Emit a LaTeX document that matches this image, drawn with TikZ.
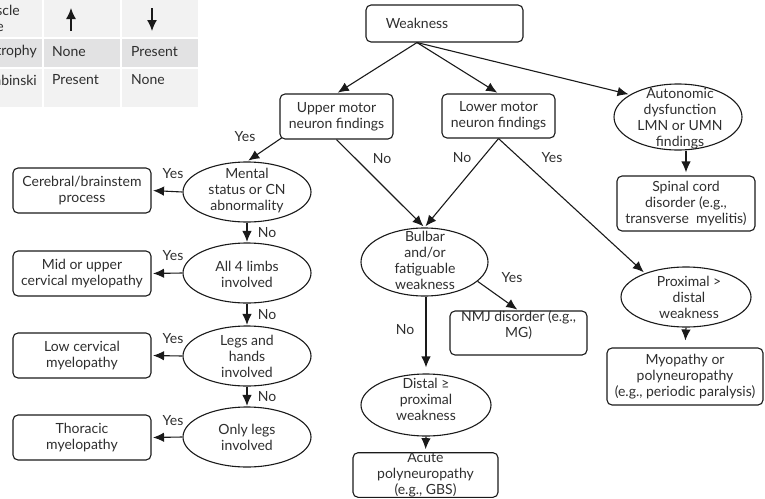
\documentclass[tikz,border=0pt]{standalone}
\usepackage{fontspec}
\setmainfont{Lato}
\usetikzlibrary{arrows.meta,shapes.geometric}
\definecolor{ink}{HTML}{1A1A1A}
\definecolor{txtgray}{HTML}{2E2E2E}
\definecolor{tabbg}{HTML}{F2F2F2}
\definecolor{tabrow}{HTML}{E2E2E3}
\tikzset{
  txt/.style={align=center, font=\fontsize{14}{16}\selectfont, text=txtgray, inner sep=0pt},
  box/.style={draw=ink, line width=1.1pt, rounded corners=5pt, align=center,
    font=\fontsize{14}{16}\selectfont, text=txtgray, inner sep=1pt},
  oval/.style={draw=ink, line width=1.1pt, ellipse, inner sep=0pt},
  arr/.style={draw=ink, line width=1.1pt, -{Latex[length=11pt,width=9.5pt]}, shorten >=1.5pt},
  tabarr/.style={draw=ink, line width=1.3pt, -{Latex[length=11pt,width=10pt]}},
}
\begin{document}
\begin{tikzpicture}[x=1pt,y=-1pt]
\useasboundingbox (0,0) rectangle (765,498);
\clip (0,0) rectangle (765,498);

% sign table in the corner
\fill[tabbg] (-5,0) rectangle (198,107);
\fill[tabrow] (-5,38) rectangle (198,68);
\draw[white, line width=2pt] (43,0) -- (43,107) (121,0) -- (121,107)
  (-5,38) -- (198,38) (-5,68) -- (198,68);
\node[txt, anchor=east] (h1a) at (20,10) {Muscle};
\node[txt, anchor=east] (h1b) at (4,27) {tone};
\coordinate (upt) at (71,31);
\coordinate (uph) at (71,8);
\coordinate (dnt) at (152,8);
\coordinate (dnh) at (152,31);
\draw[tabarr] (upt) -- (uph);
\draw[tabarr] (dnt) -- (dnh);
\node[txt, anchor=east] (r1) at (37,52) {Atrophy};
\node[txt, anchor=west] (r1b) at (52,52) {None};
\node[txt, anchor=west] (r1c) at (131,52) {Present};
\node[txt, anchor=east] (r2) at (37,80) {Babinski};
\node[txt, anchor=west] (r2b) at (52,80) {Present};
\node[txt, anchor=west] (r2c) at (131,80) {None};

% top level
\node[box, minimum width=157pt, minimum height=37pt] (weak) at (444.5,23.5) {};
\node[txt] (weakt) at (417,23.5) {Weakness};
\coordinate (wsrc) at (weak.south -| weakt);

\node[box, minimum width=113pt, minimum height=45pt] (umn) at (336.5,116.5) {Upper motor\\neuron findings};
\node[box, minimum width=113pt, minimum height=44pt] (lmn) at (498.5,116) {Lower motor\\neuron findings};
\node[oval, minimum width=128pt, minimum height=66pt] (auto) at (678,117) {};
\node[txt] (autot) at (680,118.5) {Autonomic\\dysfunction\\LMN or UMN\\findings};
\node[box, minimum width=138pt, minimum height=55pt] (spinal) at (686,203.5) {Spinal cord\\disorder (e.g.,\\transverse~ myelitis)};

% upper motor neuron branch
\node[oval, minimum width=128pt, minimum height=60pt] (mental) at (247,192) {};
\node[txt] (mentalt) at (247,191) {Mental\\status or CN\\abnormality};
\node[oval, minimum width=128pt, minimum height=60pt] (all4) at (247,273) {};
\node[txt] (all4t) at (247,274) {All 4 limbs\\involved};
\node[oval, minimum width=128pt, minimum height=60pt] (legs) at (247,356) {};
\node[txt] (legst) at (247,356) {Legs and\\hands\\involved};
\node[oval, minimum width=128pt, minimum height=60pt] (only) at (247,437) {};
\node[txt] (onlyt) at (247,437.5) {Only legs\\involved};

\node[box, minimum width=138pt, minimum height=45pt] (cereb) at (82,190.5) {Cerebral/brainstem\\process};
\node[box, minimum width=138pt, minimum height=45pt] (midup) at (82,273.5) {Mid or upper\\cervical myelopathy};
\node[box, minimum width=138pt, minimum height=45pt] (lowc) at (82,355.5) {Low cervical\\myelopathy};
\node[box, minimum width=138pt, minimum height=45pt] (thor) at (82,437.5) {Thoracic\\myelopathy};

% middle branch
\node[oval, minimum width=127pt, minimum height=68pt] (bulbar) at (424.5,262) {};
\node[txt] (bulbart) at (425,260.5) {Bulbar\\and/or\\fatiguable\\weakness};
\node[box, minimum width=137pt, minimum height=44pt] (nmj) at (518.5,333) {};
\node[txt] (nmjt) at (518.5,325) {NMJ disorder (e.g.,\\MG)};
\node[oval, minimum width=130pt, minimum height=62pt] (distal) at (426,405) {};
\node[txt] (distalt) at (426,399) {Distal ≥\\proximal\\weakness};
\node[box, inner sep=0pt, minimum width=145pt, minimum height=44pt] (acute) at (425.5,475) {Acute\\polyneuropathy\\(e.g., GBS)};

% lower motor neuron branch
\node[oval, minimum width=130pt, minimum height=60pt] (prox) at (686,297) {};
\node[txt] (proxt) at (689,297.5) {Proximal >\\distal\\weakness};
\node[box, inner sep=0pt, minimum width=156pt, minimum height=57pt] (myo) at (685,376.5) {Myopathy or\\polyneuropathy\\(e.g., periodic paralysis)};

% connectors
\draw[arr] (wsrc) -- (umn.north);
\draw[arr] (wsrc) -- (lmn.north);
\draw[arr] (wsrc) -- (auto.155);
\draw[arr, shorten >=3pt] (auto.south -| spinal.north) -- (spinal.north);

\draw[arr] ([shift={(2pt,1.5pt)}]umn.south west) -- (mental.north);
\draw[arr] (umn.south) -- (bulbar.north);
\draw[arr] (lmn.south) -- (bulbar.north);
\draw[arr] (lmn.south) -- (prox.150);

\draw[arr] (mental.west) -- (cereb.east);
\draw[arr] (all4.west) -- (midup.east);
\draw[arr] (legs.west) -- (lowc.east);
\draw[arr] (only.west) -- (thor.east);
\draw[arr, shorten >=0.5pt] (mental.south) -- (all4.north);
\draw[arr, shorten >=0.5pt] (all4.south) -- (legs.north);
\draw[arr, shorten >=0.5pt] (legs.south) -- (only.north);

\draw[arr] (bulbar.-20) -- (nmj.north);
\draw[arr, shorten >=6pt] (bulbar.south -| distal.north) -- (distal.north);
\draw[arr, shorten >=3pt] (distal.south) -- (acute.north);
\draw[arr, shorten >=7pt] (prox.south) -- (myo.north);

% branch labels
\node[txt] (yes1) at (245,137) {Yes};
\node[txt] (no1) at (382,159) {No};
\node[txt] (no2) at (462,158) {No};
\node[txt] (yes2) at (552,158) {Yes};
\node[txt] (yes3) at (173,174) {Yes};
\node[txt] (yes4) at (173,256) {Yes};
\node[txt] (yes5) at (173,339) {Yes};
\node[txt] (yes6) at (173,421) {Yes};
\node[txt] (no3) at (267,232.5) {No};
\node[txt] (no4) at (267,314.5) {No};
\node[txt] (no5) at (267,397) {No};
\node[txt] (no6) at (405,330) {No};
\node[txt] (yes7) at (512,278) {Yes};
\end{tikzpicture}
\end{document}
